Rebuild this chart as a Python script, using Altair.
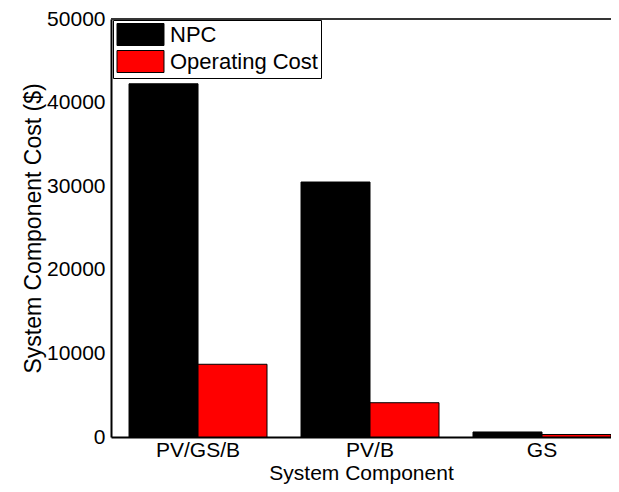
import altair as alt
import pandas as pd

components = ["PV/GS/B", "PV/B", "GS"]
series = ["NPC", "Operating Cost"]
npc = [42250, 30500, 600]
operating = [8700, 4100, 300]
colors = ["#000000", "#ff0000"]

rows = []
for i, c in enumerate(components):
    rows.append({"component": c, "series": series[0], "value": npc[i]})
    rows.append({"component": c, "series": series[1], "value": operating[i]})
df = pd.DataFrame(rows)

FONT = "Liberation Sans"
W, H = 500, 418

bars = alt.Chart(df).mark_bar(stroke="black", strokeWidth=1).encode(
    x=alt.X("component:N", sort=components,
            scale=alt.Scale(paddingInner=0.1977, paddingOuter=0.0524, align=1),
            axis=alt.Axis(title="System Component", labelAngle=0, labelFontSize=21,
                          labelFont=FONT, labelColor="black", labelPadding=2,
                          ticks=False, domainColor="black", domainWidth=2,
                          titleFont=FONT, titleFontSize=21, titleFontWeight="normal",
                          titleColor="black", titlePadding=2)),
    xOffset=alt.XOffset("series:N", sort=series),
    y=alt.Y("value:Q", scale=alt.Scale(domain=[0, 50000], nice=False),
            axis=alt.Axis(title="System Component Cost ($)",
                          values=[0, 10000, 20000, 30000, 40000, 50000],
                          format="d", grid=False, labelFontSize=21, labelFont=FONT,
                          labelColor="black", labelPadding=6, ticks=False,
                          domainColor="black", domainWidth=2,
                          titleFont=FONT, titleFontSize=23, titleFontWeight="normal",
                          titleColor="black", titlePadding=1)),
    color=alt.Color("series:N", sort=series,
                    scale=alt.Scale(domain=series, range=colors),
                    legend=alt.Legend(title=None, orient="none", legendX=2, legendY=1,
                                      symbolType="M-2.136,-1H2.136V1H-2.136Z", symbolSize=484,
                                      symbolOffset=13,
                                      symbolStrokeColor="black", symbolStrokeWidth=1,
                                      symbolOpacity=1,
                                      labelFont=FONT, labelFontSize=22, labelColor="black",
                                      labelOffset=18, padding=3, rowPadding=0,
                                      strokeColor="black", fillColor="white")),
)

top_line = alt.Chart(df).mark_rule(color="#333333", strokeWidth=1).encode(
    y=alt.value(0), x=alt.value(0), x2=alt.value(W)
)

chart = alt.layer(bars, top_line).properties(
    width=W, height=H,
    autosize=alt.AutoSizeParams(type="none"),
    padding={"left": 103, "top": 11, "right": 0, "bottom": 476 - 11 - H},
).configure_view(stroke=None)

chart.save("out.html", embed_options={"renderer": "svg", "actions": False})
